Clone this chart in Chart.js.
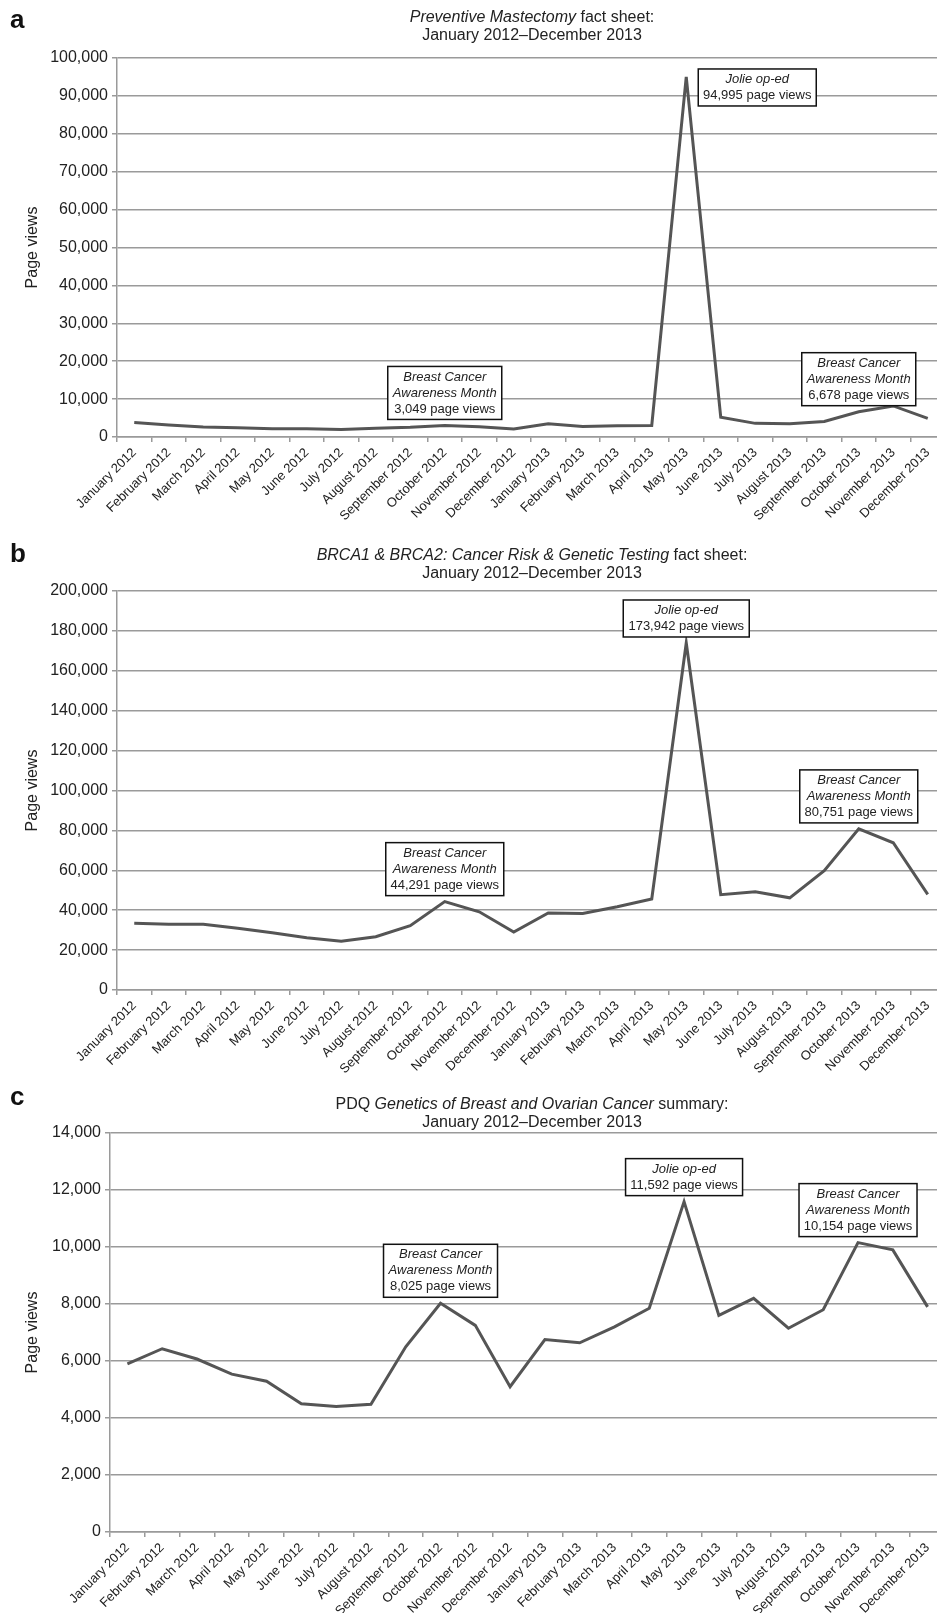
<!DOCTYPE html>
<html>
<head>
<meta charset="utf-8">
<script src="https://cdn.jsdelivr.net/npm/chart.js@4.4.1/dist/chart.umd.min.js"></script>
<style>
html, body { margin: 0; padding: 0; background: #fff; overflow: hidden; width: 937px; height: 1613px; }
canvas { position: absolute; left: 0; }
.letter { position: absolute; left: 10px; font: bold 26px "Liberation Sans", Arial, sans-serif; line-height: 26px; color: #111; }
.title { position: absolute; left: 282px; width: 500px; text-align: center; font: 16px "Liberation Sans", Arial, sans-serif; line-height: 18px; color: #222; }
</style>
</head>
<body>
<canvas id="chart-a" width="960" height="537" style="top:0"></canvas>
<canvas id="chart-b" width="960" height="553" style="top:537px"></canvas>
<canvas id="chart-c" width="960" height="523" style="top:1090px"></canvas>

<div class="letter" style="top:6px">a</div>
<div class="title" style="top:8px"><i>Preventive Mastectomy</i> fact sheet:<br>January 2012–December 2013</div>
<div class="letter" style="top:540px">b</div>
<div class="title" style="top:546px"><i>BRCA1 &amp; BRCA2: Cancer Risk &amp; Genetic Testing</i> fact sheet:<br>January 2012–December 2013</div>
<div class="letter" style="top:1083px">c</div>
<div class="title" style="top:1095px">PDQ <i>Genetics of Breast and Ovarian Cancer</i> summary:<br>January 2012–December 2013</div>

<script>
const months = ['January 2012', 'February 2012', 'March 2012', 'April 2012', 'May 2012', 'June 2012',
    'July 2012', 'August 2012', 'September 2012', 'October 2012', 'November 2012', 'December 2012',
    'January 2013', 'February 2013', 'March 2013', 'April 2013', 'May 2013', 'June 2013',
    'July 2013', 'August 2013', 'September 2013', 'October 2013', 'November 2013', 'December 2013'];

// page views per month (labelled peaks are exact)
const mastectomyViews = [3800, 3150, 2650, 2450, 2200, 2200, 2000, 2300, 2550, 3049, 2700, 2100,
    3500, 2800, 3000, 3050, 94995, 5200, 3600, 3500, 4100, 6678, 8200, 4900];
const brcaViews = [33500, 33000, 33000, 30900, 28700, 26200, 24500, 26700, 32200, 44291, 39200, 29000,
    38600, 38400, 41700, 45600, 173942, 47800, 49200, 46200, 59800, 80751, 73800, 47900];
const pdqViews = [5900, 6430, 6070, 5540, 5290, 4500, 4400, 4480, 6500, 8025, 7250, 5100,
    6750, 6640, 7200, 7850, 11592, 7600, 8200, 7150, 7800, 10154, 9900, 7900];

const yMaxA = 100000, yStepA = 10000;
const yMaxB = 200000, yStepB = 20000;
const yMaxC = 14000, yStepC = 2000;

const notesA = [
    { index: 9, italic: ['Breast Cancer', 'Awareness Month'], text: '3,049 page views', place: 'above' },
    { index: 16, italic: ['Jolie op-ed'], text: '94,995 page views', place: 'right' },
    { index: 21, italic: ['Breast Cancer', 'Awareness Month'], text: '6,678 page views', place: 'above' }
];
const notesB = [
    { index: 9, italic: ['Breast Cancer', 'Awareness Month'], text: '44,291 page views', place: 'above' },
    { index: 16, italic: ['Jolie op-ed'], text: '173,942 page views', place: 'above' },
    { index: 21, italic: ['Breast Cancer', 'Awareness Month'], text: '80,751 page views', place: 'above' }
];
const notesC = [
    { index: 9, italic: ['Breast Cancer', 'Awareness Month'], text: '8,025 page views', place: 'above' },
    { index: 16, italic: ['Jolie op-ed'], text: '11,592 page views', place: 'above' },
    { index: 21, italic: ['Breast Cancer', 'Awareness Month'], text: '10,154 page views', place: 'above' }
];

const FONT = '"Liberation Sans", Arial, sans-serif';
const GRID = '#9a9a9a';

// boxed call-outs, hung off the data point they describe
const noteBoxes = {
    id: 'noteBoxes',
    afterDatasetsDraw(chart, args, opts) {
        const ctx = chart.ctx;
        const xs = chart.scales.x, ys = chart.scales.y;
        const values = chart.data.datasets[0].data;
        ctx.save();
        for (const n of opts.notes) {
            const px = xs.getPixelForValue(n.index);
            const py = ys.getPixelForValue(values[n.index]);
            const lines = n.italic.map(t => ({ t, it: true })).concat([{ t: n.text, it: false }]);
            let w = 0;
            lines.forEach(l => {
                ctx.font = (l.it ? 'italic ' : '') + '13px ' + FONT;
                w = Math.max(w, ctx.measureText(l.t).width);
            });
            const bw = Math.round(w + 10), bh = lines.length * 16 + 5;
            let bx, by;
            if (n.place === 'right') { bx = px + 12; by = py - 8; }
            else { bx = px - bw / 2; by = py - 6 - bh; }
            ctx.fillStyle = '#fff';
            ctx.fillRect(bx, by, bw, bh);
            ctx.strokeStyle = '#111';
            ctx.lineWidth = 1.5;
            ctx.strokeRect(bx, by, bw, bh);
            ctx.fillStyle = '#222';
            ctx.textAlign = 'center';
            ctx.textBaseline = 'middle';
            lines.forEach((l, i) => {
                ctx.font = (l.it ? 'italic ' : '') + '13px ' + FONT;
                ctx.fillText(l.t, bx + bw / 2, by + 10.5 + i * 16);
            });
        }
        ctx.restore();
    }
};

function makeChart(id, values, yMax, yStep, notes, top, plotLeft, xHeight) {
    return new Chart(document.getElementById(id), {
        type: 'line',
        data: {
            labels: months,
            datasets: [{
                data: values,
                borderColor: '#555',
                borderWidth: 3,
                pointRadius: 0,
                tension: 0,
                fill: false
            }]
        },
        options: {
            responsive: false,
            animation: false,
            layout: { padding: { top: top, right: 15, left: 0, bottom: 0 } },
            plugins: {
                legend: { display: false },
                tooltip: { enabled: false },
                noteBoxes: { notes: notes }
            },
            scales: {
                x: {
                    offset: true,
                    grid: { drawOnChartArea: false, offset: true, tickLength: 5, color: GRID, lineWidth: 1.5 },
                    border: { color: GRID, width: 1.5 },
                    ticks: { autoSkip: false, maxRotation: 45, minRotation: 45, padding: 3, color: '#222',
                        font: { size: 13, family: FONT } },
                    afterFit: s => { s.height = xHeight; }
                },
                y: {
                    min: 0,
                    max: yMax,
                    grid: { color: GRID, lineWidth: 1.5, tickLength: 5 },
                    border: { color: GRID, width: 1.5 },
                    ticks: { stepSize: yStep, padding: 4, color: '#222', font: { size: 16, family: FONT },
                        callback: v => v.toLocaleString('en-US') },
                    title: { display: true, text: 'Page views', color: '#222', padding: { top: 23, bottom: 0 },
                        font: { size: 16, family: FONT } },
                    afterFit: s => { s.width = plotLeft; }
                }
            }
        },
        plugins: [noteBoxes]
    });
}

makeChart('chart-a', mastectomyViews, yMaxA, yStepA, notesA, 58, 117, 100);
makeChart('chart-b', brcaViews, yMaxB, yStepB, notesB, 54, 117, 100);
makeChart('chart-c', pdqViews, yMaxC, yStepC, notesC, 43, 110, 81);
</script>
</body>
</html>
